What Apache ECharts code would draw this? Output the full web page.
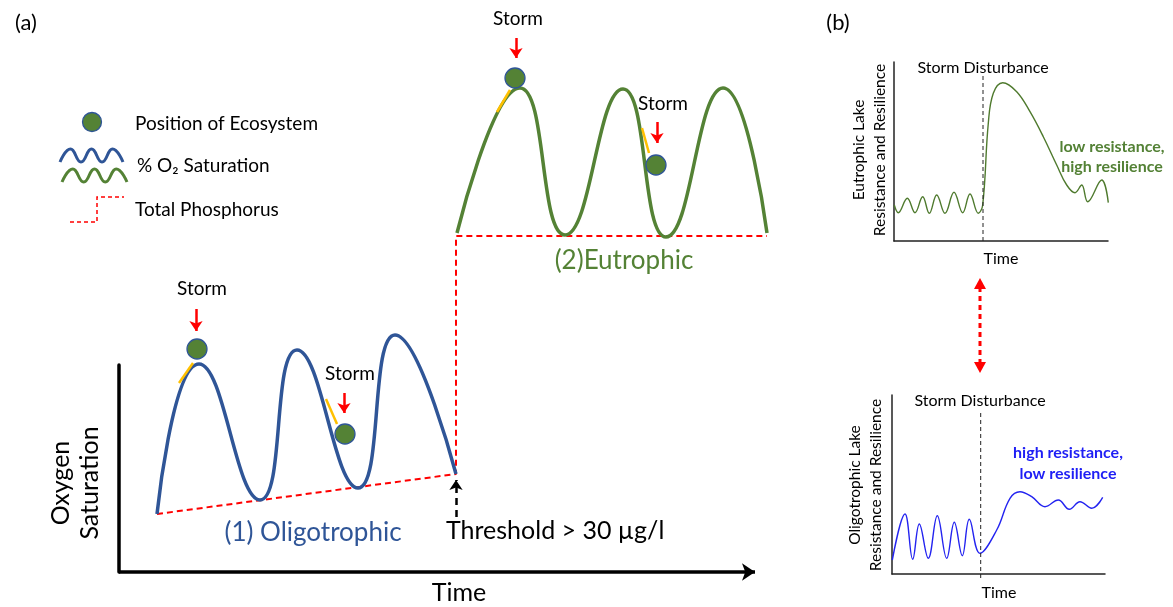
<!DOCTYPE html>
<html>
<head>
<meta charset="utf-8">
<script src="https://cdn.jsdelivr.net/npm/echarts@6/dist/echarts.min.js"></script>
<style>
html,body{margin:0;padding:0;background:#fff;}
#chart{width:1173px;height:607px;}
</style>
</head>
<body>
<div id="chart"></div>
<script>
// ---- Panel (a): values (x = time units, y = oxygen saturation units)
const oligoO2 = [[38,58],[80,208],[141,72],[178,222],[239,84],[276,237],[337,98]];
const eutroO2 = [[338,339],[401,484],[446,337],[504,483],[547,335],[604,484],[648,339]];
const totalPhosphorus = [[38,58],[337,98],[337,336],[648,336]];
const ecosystemPosition = [[78,223],[226,138],[396,494],[537,407]];
const stormArrows = [[[77,263],[77,241]],[[225,179],[225,159]],[[397,534],[397,514]],[[538,450],[538,429]]];
const stormTraces = [[[60,189],[74,209]],[[207,173],[218,148]],[[378,460],[391,482]],[[523,444],[530,419]]];
const thresholdArrow = [[337,55],[337,92]];
const timeAxisArrow = [[0,0],[636,0]];

// ---- Panel (b): response curves
const eutroResponse = [[0.3,36],[4.3,28.3],[13.3,42.7],[21,28.3],[28.7,44.3],[35.3,27.7],[42.7,46],[51,27.7],[60,48.7],[68.7,28.3],[76,47],[84.3,27.7],[88.7,36],[94.3,117.7],[99.3,147.7],[108.7,158.3],[122.7,149.3],[136,129.3],[149.3,104.3],[162.7,76],[172.7,56],[181,48.3],[187.7,56],[193.7,39.3],[207.7,61],[214.3,38.3]];
const oligoResponse = [[0.3,14],[13,60],[20.7,14.7],[27.3,50],[36.3,15.7],[45.3,58.3],[54.7,15.7],[62.3,51.7],[70.3,18.3],[77.3,54.7],[88,20.7],[104.7,44],[118,75.7],[128,82.3],[139.7,77.3],[153,67.3],[166.3,74],[177.3,64.7],[188,72.3],[199.7,65.7],[210.7,76.7]];
const disturbanceTop = [[89,0],[89,166]];
const disturbanceBottom = [[88.7,-4],[88.7,164]];

const FONT = 'Lato';
const BLUE = '#2F5597', GREEN = '#548235', RED = '#FF0000', ORANGE = '#FFC000';

function txt(x, y, text, size, opt) {
  opt = opt || {};
  return {
    type: 'text', x: x, y: y, rotation: opt.rot || 0, z: 100,
    style: {
      text: text, fontFamily: FONT, fontSize: size, fontWeight: opt.bold ? 'bold' : 'normal',
      fill: opt.color || '#000', align: opt.align || 'center', verticalAlign: 'middle',
      lineHeight: opt.lh || size * 1.2
    }
  };
}

const chart = echarts.init(document.getElementById('chart'), null, {renderer: 'canvas'});
const hiddenAxisBits = {axisTick:{show:false}, axisLabel:{show:false}, splitLine:{show:false}};

chart.setOption({
  animation: false,
  backgroundColor: '#fff',
  grid: [
    {left:119, top:365, width:660, height:207, outerBoundsMode:'none'},
    {left:894, top:62, width:214, height:179, outerBoundsMode:'none'},
    {left:892, top:395, width:213, height:179, outerBoundsMode:'none'}
  ],
  xAxis: [
    Object.assign({type:'value', gridIndex:0, min:0, max:660, axisLine:{show:false}}, hiddenAxisBits),
    Object.assign({type:'value', gridIndex:1, min:0, max:214,
      axisLine:{show:true, lineStyle:{color:'#222', width:1.5}}}, hiddenAxisBits),
    Object.assign({type:'value', gridIndex:2, min:0, max:213,
      axisLine:{show:true, lineStyle:{color:'#222', width:1.5}}}, hiddenAxisBits)
  ],
  yAxis: [
    Object.assign({type:'value', gridIndex:0, min:0, max:207,
      axisLine:{show:true, lineStyle:{color:'#000', width:3.5}}}, hiddenAxisBits),
    Object.assign({type:'value', gridIndex:1, min:0, max:179,
      axisLine:{show:true, lineStyle:{color:'#222', width:1.5}}}, hiddenAxisBits),
    Object.assign({type:'value', gridIndex:2, min:0, max:179,
      axisLine:{show:true, lineStyle:{color:'#222', width:1.5}}}, hiddenAxisBits)
  ],
  series: [
    {type:'lines', coordinateSystem:'cartesian2d', xAxisIndex:0, yAxisIndex:0, clip:false, z:1,
      data:[{coords:timeAxisArrow}], symbol:['none','arrow'], symbolSize:13,
      lineStyle:{color:'#000', width:3.5, opacity:1}},
    {type:'line', name:'Total Phosphorus', xAxisIndex:0, yAxisIndex:0, data:totalPhosphorus, clip:false,
      showSymbol:false, lineStyle:{color:RED, width:2, type:[6,4]}, z:2},
    {type:'line', name:'O2 oligotrophic', xAxisIndex:0, yAxisIndex:0, data:oligoO2, smooth:0.5, clip:false,
      showSymbol:false, lineStyle:{color:BLUE, width:3.5}, z:3},
    {type:'line', name:'O2 eutrophic', xAxisIndex:0, yAxisIndex:0, data:eutroO2, smooth:0.5, clip:false,
      showSymbol:false, lineStyle:{color:GREEN, width:3.5}, z:3},
    {type:'lines', coordinateSystem:'cartesian2d', xAxisIndex:0, yAxisIndex:0, clip:false, z:4,
      data: stormTraces.map(c => ({coords:c})), symbol:['none','none'],
      lineStyle:{color:ORANGE, width:2.5, opacity:1}},
    {type:'lines', coordinateSystem:'cartesian2d', xAxisIndex:0, yAxisIndex:0, clip:false, z:5,
      data: stormArrows.map(c => ({coords:c})), symbol:['none','arrow'], symbolSize:10,
      lineStyle:{color:RED, width:2.5, opacity:1}},
    {type:'lines', coordinateSystem:'cartesian2d', xAxisIndex:0, yAxisIndex:0, clip:false, z:5,
      data: [{coords:thresholdArrow}], symbol:['none','arrow'], symbolSize:10,
      lineStyle:{color:'#000', width:2.5, type:[7,5], opacity:1}},
    {type:'scatter', name:'Position of Ecosystem', xAxisIndex:0, yAxisIndex:0, data:ecosystemPosition, clip:false,
      symbol:'circle', symbolSize:20, itemStyle:{color:GREEN, borderColor:BLUE, borderWidth:1.3, opacity:1}, z:6},

    {type:'line', xAxisIndex:1, yAxisIndex:1, data:eutroResponse, smooth:0.4, clip:false,
      showSymbol:false, lineStyle:{color:'#4F7A2E', width:1.4}},
    {type:'line', xAxisIndex:1, yAxisIndex:1, data:disturbanceTop, clip:false,
      showSymbol:false, lineStyle:{color:'#222', width:1, type:[4,3]}},
    {type:'line', xAxisIndex:2, yAxisIndex:2, data:oligoResponse, smooth:0.4, clip:false,
      showSymbol:false, lineStyle:{color:'#2323F0', width:1.4}},
    {type:'line', xAxisIndex:2, yAxisIndex:2, data:disturbanceBottom, clip:false,
      showSymbol:false, lineStyle:{color:'#222', width:1, type:[4,3]}}
  ],
  graphic: [
    txt(26, 23, '(a)', 22),
    txt(838, 23, '(b)', 22),
    // legend
    {type:'circle', shape:{cx:92, cy:122, r:9.5}, style:{fill:GREEN, stroke:BLUE, lineWidth:1.3}, z:100},
    {type:'polyline', shape:{points:[[60,162],[70.5,149],[81,162],[91.5,149],[102,162],[112.5,149],[123,162]], smooth:0.5},
      style:{stroke:BLUE, lineWidth:3, fill:null}, z:100},
    {type:'polyline', shape:{points:[[62,182],[72.8,169],[83.7,182],[94.5,169],[105.3,182],[116.2,169],[127,182]], smooth:0.5},
      style:{stroke:GREEN, lineWidth:3, fill:null}, z:100},
    {type:'polyline', shape:{points:[[70,222],[97,222],[97,197],[124,197]]},
      style:{stroke:RED, lineWidth:1.5, lineDash:[4,3], fill:null}, z:100},
    txt(135, 124, 'Position of Ecosystem', 19, {align:'left'}),
    txt(137, 166, '% O\u2082 Saturation', 19, {align:'left'}),
    txt(135, 210, 'Total Phosphorus', 19, {align:'left'}),
    // storm labels
    txt(202, 289, 'Storm', 19), txt(350, 374, 'Storm', 19),
    txt(518, 19, 'Storm', 19), txt(663, 104, 'Storm', 19),
    // main labels
    txt(313, 533, '(1) Oligotrophic', 26, {color:BLUE}),
    txt(624, 261, '(2)Eutrophic', 26, {color:GREEN}),
    txt(446, 531, 'Threshold > 30 \u00b5g/l', 25, {align:'left'}),
    txt(459, 593, 'Time', 25),
    txt(75, 483, 'Oxygen\nSaturation', 25, {rot:Math.PI/2, lh:29}),
    // panel b labels
    txt(983, 68, 'Storm Disturbance', 16),
    txt(1001, 259, 'Time', 16),
    txt(869.5, 150, 'Eutrophic Lake\nResistance and Resilience', 15.5, {rot:Math.PI/2, lh:21}),
    txt(1112, 157, 'low resistance,\nhigh resilience', 16, {bold:true, color:'#538135', lh:20}),
    txt(980, 401, 'Storm Disturbance', 16),
    txt(999, 593, 'Time', 16),
    txt(865.5, 485, 'Oligotrophic Lake\nResistance and Resilience', 15.5, {rot:Math.PI/2, lh:21}),
    txt(1068, 463, 'high resistance,\nlow resilience', 16, {bold:true, color:'#1E1EF5', lh:21}),
    // double arrow between panels
    {type:'line', shape:{x1:980, y1:287, x2:980, y2:364}, style:{stroke:RED, lineWidth:3, lineDash:[5,4]}, z:100},
    {type:'polygon', shape:{points:[[974,289],[986,289],[980,278]]}, style:{fill:RED}, z:100},
    {type:'polygon', shape:{points:[[974,362],[986,362],[980,373]]}, style:{fill:RED}, z:100}
  ]
});
</script>
</body>
</html>
